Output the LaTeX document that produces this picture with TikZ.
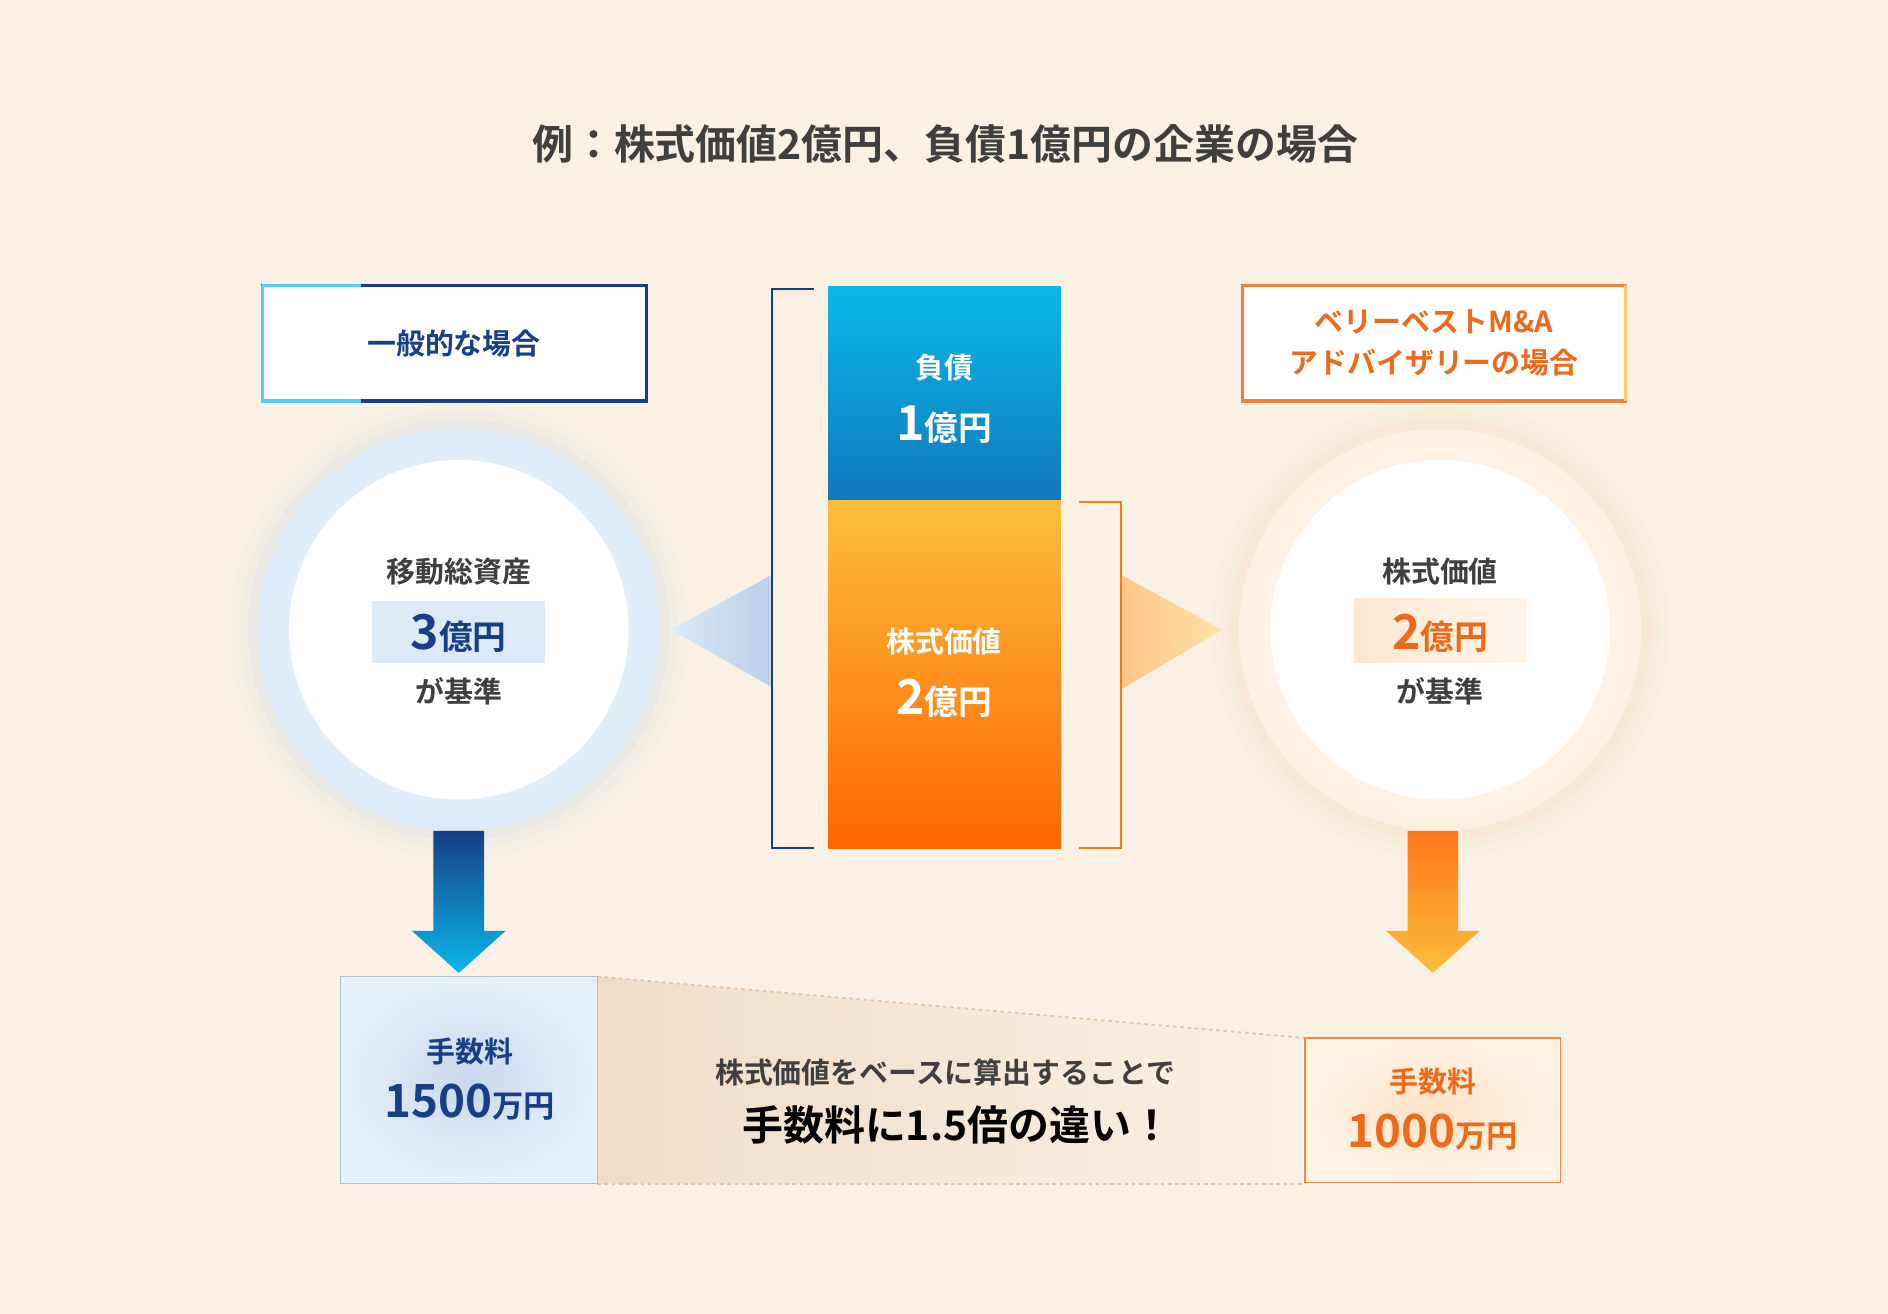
\documentclass[tikz,border=0pt]{standalone}
\usepackage{fontspec}
\setmainfont{Noto Sans CJK JP}[BoldFont={* Bold}]
\definecolor{bg}{HTML}{FAF1E4}
\definecolor{navy}{HTML}{173E86}
\definecolor{org}{HTML}{EE6A1A}
\definecolor{dark}{HTML}{3F3F3F}
\definecolor{lb}{HTML}{DCEAF8}
\definecolor{glowb}{HTML}{B9CFEA}
\definecolor{glowo}{HTML}{F8CFA8}
\definecolor{cy}{HTML}{0BB8E8}
\definecolor{bb}{HTML}{0F78BC}
\definecolor{oy}{HTML}{FBBF3C}
\definecolor{or}{HTML}{FF6600}
\tikzset{x=1pt,y=-1pt,
 t/.style={font=\bfseries\fontsize{#1}{#1}\selectfont,inner sep=0pt},
 t/.default=24}
\begin{document}
\begin{tikzpicture}
\fill[bg] (0,0) rectangle (1568,1091);
\useasboundingbox (0,0) rectangle (1568,1091);
\node[t=34,text=dark] (title) at (785,120) {例：株式価値2億円、負債1億円の企業の場合};
% label boxes
\draw[line width=3pt,fill=white,draw=navy] (218,237) rectangle (537,333);
\draw[line width=3pt,draw=cy!70] (218,237) -- (218,333) -- (300,333);
\draw[line width=3pt,draw=cy!70] (218,237) -- (300,237);
\node[t=24,text=navy] (gl) at (377,285) {一般的な場合};
\draw[line width=3pt,fill=white,draw=org!85] (1032,237) rectangle (1350,333);
\draw[line width=3pt,draw=oy!80] (1350,237) -- (1350,333);
\node[t=24,text=org,align=center,font=\bfseries\fontsize{24}{34}\selectfont] (vl) at (1191,285) {ベリーベストM\&A\\アドバイザリーの場合};
% circles
\foreach \r/\o in {190/0.05,182/0.08,175/0.12}{\fill[glowb,opacity=\o] (381,523) circle (\r);}
\shade[inner color=white,outer color=lb] (381,523) circle (167);
\fill[white] (381,523) circle (141);
\foreach \r/\o in {190/0.05,182/0.08,175/0.12}{\fill[glowo,opacity=\o] (1196,523) circle (\r);}
\shade[inner color=white,outer color=orange!12] (1196,523) circle (167);
\fill[white] (1196,523) circle (141);
\node[t=24,text=dark] (c1a) at (381,475) {移動総資産};
\fill[lb] (309,499) rectangle (453,551);
\node[t=40,text=navy] (c1b) at (381,526) {3\fontsize{28}{28}\selectfont 億円};
\node[t=24,text=dark] (c1c) at (381,574) {が基準};
\node[t=24,text=dark] (c2a) at (1196,475) {株式価値};
\shade[left color=orange!18,right color=orange!8] (1125,497) rectangle (1268,550);
\node[t=40,text=org] (c2b) at (1196,526) {2\fontsize{28}{28}\selectfont 億円};
\node[t=24,text=dark] (c2c) at (1196,574) {が基準};
% bars
\shade[top color=cy,bottom color=bb] (688,238) rectangle (881,416);
\shade[top color=oy,bottom color=or] (688,416) rectangle (881,705);
\node[t=24,text=white] (b1a) at (784,305) {負債};
\node[t=40,text=white] (b1b) at (784,353) {1\fontsize{28}{28}\selectfont 億円};
\node[t=24,text=white] (b2a) at (784,533) {株式価値};
\node[t=40,text=white] (b2b) at (784,580) {2\fontsize{28}{28}\selectfont 億円};
% brackets
\draw[navy,line width=1.5pt] (676,240) -- (641,240) -- (641,704) -- (676,704);
\draw[orange!70!brown,line width=1.5pt] (896,417) -- (931,417) -- (931,704) -- (896,704);
% triangles
\shade[left color=lb,right color=glowb] (640,478) -- (640,570) -- (557,523) -- cycle;
\shade[left color=orange!45,right color=oy!45] (932,478) -- (932,572) -- (1015,523) -- cycle;
% down arrows
\shade[top color=navy,bottom color=cy] (360,690) -- (402,690) -- (402,773) -- (420,773) -- (381,808) -- (342,773) -- (360,773) -- cycle;
\shade[top color=or!90,bottom color=oy] (1169,690) -- (1211,690) -- (1211,773) -- (1229,773) -- (1190,808) -- (1151,773) -- (1169,773) -- cycle;
% trapezoid
\shade[left color=brown!18!bg,right color=bg] (496,811) -- (1084,862) -- (1084,983) -- (496,983) -- cycle;
\draw[dashed,brown!45,line width=1.5pt] (496,811) -- (1084,862);
\draw[dashed,brown!45,line width=1.5pt] (496,983) -- (1084,983);
% bottom boxes
\shade[inner color=glowb!80,outer color=lb!70] (283,811) rectangle (496,983);
\draw[glowb!80!gray,line width=1.2pt] (283,811) rectangle (496,983);
\node[t=24,text=navy] (f1a) at (390,873) {手数料};
\node[t=38,text=navy] (f1b) at (390,915) {1500\fontsize{26}{26}\selectfont 万円};
\shade[inner color=orange!22,outer color=orange!10] (1084,862) rectangle (1296,982);
\draw[org!80,line width=1.5pt] (1084,862) rectangle (1296,982);
\node[t=24,text=org] (f2a) at (1190,898) {手数料};
\node[t=38,text=org] (f2b) at (1190,940) {1000\fontsize{26}{26}\selectfont 万円};
\node[t=24,text=dark] (m1) at (785,891) {株式価値をベースに算出することで};
\node[t=34,text=black] (m2) at (795,934) {手数料に1.5倍の違い！};
\end{tikzpicture}
\end{document}
